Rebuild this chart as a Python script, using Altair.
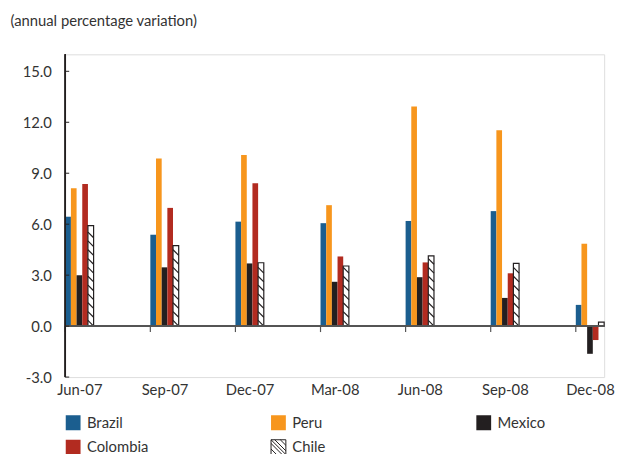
import altair as alt
import pandas as pd

dates = ["Jun-07", "Sep-07", "Dec-07", "Mar-08", "Jun-08", "Sep-08", "Dec-08"]
countries = ["Brazil", "Peru", "Mexico", "Colombia", "Chile"]
brazil = [6.44, 5.38, 6.15, 6.06, 6.19, 6.77, 1.25]
peru = [8.12, 9.87, 10.08, 7.12, 12.93, 11.53, 4.85]
mexico = [3.00, 3.46, 3.69, 2.61, 2.88, 1.66, -1.63]
colombia = [8.36, 6.96, 8.41, 4.10, 3.75, 3.11, -0.82]
chile = [5.92, 4.74, 3.73, 3.54, 4.14, 3.69, 0.24]
colors = ["#1b5e8f", "#f7961d", "#231f20", "#b22b20", "#ffffff"]
strokes = ["transparent", "transparent", "transparent", "transparent", "#231f20"]
y_ticks = [-3, 0, 3, 6, 9, 12, 15]
y_range = [-3, 16]

SLOTS = 15          # slots per quarter group (5 bars + gap)
HATCH_STEP = 0.52   # vertical spacing of hatch lines (data units)
HATCH_RISE = 0.335  # rise of one 45-degree hatch line across a bar

series = dict(zip(countries, [brazil, peru, mexico, colombia, chile]))
rows = []
for gi, d in enumerate(dates):
    for ci, c in enumerate(countries):
        rows.append({"date": d, "country": c, "value": series[c][gi],
                     "x0": gi * SLOTS + ci, "x1": gi * SLOTS + ci + 1})
df = pd.DataFrame(rows)

hatch = []
ci = countries.index("Chile")
for gi, v in enumerate(chile):
    y = 0.0
    while y + HATCH_RISE <= v - 0.05:
        hatch.append({"xa": gi * SLOTS + ci, "xb": gi * SLOTS + ci + 1,
                      "ya": y + HATCH_RISE, "yb": y})
        y += HATCH_STEP
hdf = pd.DataFrame(hatch)

gdf = pd.DataFrame({"date": dates, "g0": [i * SLOTS for i in range(len(dates))]})
tdf = pd.DataFrame({"t": y_ticks})

font = "Lato"
FS = 15
label_arr = "[" + ",".join("'%s'" % d for d in dates) + "]"

x_scale = alt.Scale(domain=[0, 95], nice=False, zero=False)
y_scale = alt.Scale(domain=y_range, nice=False, zero=False)

x_axis = alt.Axis(values=[i * SLOTS + 2.5 for i in range(len(dates))],
                  labelExpr=label_arr + "[round((datum.value-2.5)/%d)]" % SLOTS,
                  ticks=False, domain=False, grid=False, offset=4,
                  labelFlush=False, labelFont=font,
                  labelFontSize=FS, labelColor="#333333", title=None)
y_axis = alt.Axis(values=y_ticks,
                  labelExpr="replace(format(datum.value, '.1f'), '\u2212', '-')",
                  ticks=False, grid=False, domain=False, offset=12,
                  labelFont=font, labelFontSize=FS, labelColor="#333333",
                  title="(annual percentage variation)", titleAngle=0,
                  titleX=-44, titleY=-29, titleAlign="left",
                  titleBaseline="alphabetic", titleFont=font,
                  titleFontSize=FS, titleFontWeight="normal",
                  titleColor="#333333")

hatch_path = ("M-1,-1H1V1H-1Z M-1,-0.5L0.5,1 M-1,0.25L-0.25,1 M-0.5,-1L1,0.5 "
              "M0.25,-1L1,-0.25 M-1,-1L1,1")
leg = alt.Legend(title=None, orient="none", legendX=0, legendY=365, columns=3,
                 direction="horizontal",
                 gridAlign="all", columnPadding=121, rowPadding=5, padding=0,
                 symbolType=hatch_path, symbolSize=225, symbolStrokeWidth=1,
                 labelFont=font, labelFontSize=FS, labelColor="#333333",
                 labelOffset=6)

bars = alt.Chart(df).mark_rect(strokeWidth=1.2).encode(
    x=alt.X("x0:Q", scale=x_scale, axis=x_axis),
    x2="x1:Q",
    y=alt.Y("value:Q", scale=y_scale, axis=y_axis),
    y2=alt.datum(0),
    color=alt.Color("country:N", scale=alt.Scale(domain=countries, range=colors),
                    sort=countries, legend=leg),
    stroke=alt.Stroke("country:N", scale=alt.Scale(domain=countries, range=strokes),
                      sort=countries, legend=leg),
)

hatch_layer = alt.Chart(hdf).mark_rule(color="#231f20", strokeWidth=1.2).encode(
    x=alt.X("xa:Q", scale=x_scale, axis=x_axis), x2="xb:Q",
    y=alt.Y("ya:Q", scale=y_scale, axis=y_axis), y2="yb:Q",
)

zero = alt.Chart(gdf).mark_rule(color="#555555", strokeWidth=1.4).encode(
    y=alt.Y(datum=0, scale=y_scale, axis=y_axis)
)

gticks = alt.Chart(gdf).mark_rule(color="#555555", strokeWidth=1.2).encode(
    x=alt.X("g0:Q", scale=x_scale, axis=x_axis),
    y=alt.Y(datum=0, scale=y_scale, axis=y_axis), y2=alt.datum(-0.35)
)

yline = alt.Chart(gdf).mark_rule(color="#231f20", strokeWidth=1).encode(
    x=alt.value(0),
    y=alt.Y(datum=y_range[1], scale=y_scale, axis=y_axis),
    y2=alt.datum(y_range[0]),
)

yticks = alt.Chart(tdf).mark_rule(color="#231f20", strokeWidth=1).encode(
    y=alt.Y("t:Q", scale=y_scale, axis=y_axis), x=alt.value(0), x2=alt.value(4)
)

chart = alt.layer(bars, hatch_layer, zero, gticks, yline, yticks).properties(
    width=546, height=327,
    autosize=alt.AutoSizeParams(type="none"),
    padding={"left": 58, "top": 44, "right": 12, "bottom": 75},
).configure_view(stroke=None).configure(font=font)

chart.save("out.html", embed_options={"renderer": "svg", "actions": False})
